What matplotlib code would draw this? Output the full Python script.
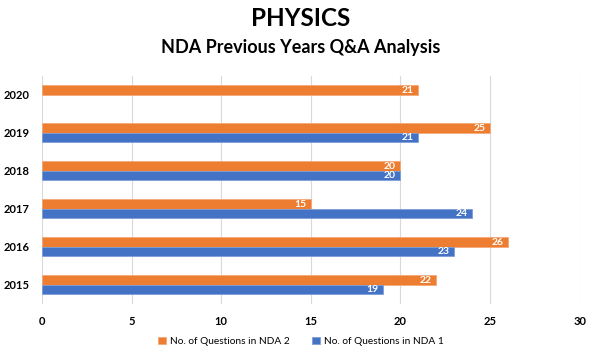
import numpy as np
import matplotlib.pyplot as plt

plt.rcParams['font.family'] = ['Lato', 'DejaVu Sans']

years = ['2015', '2016', '2017', '2018', '2019', '2020']
nda1 = [19, 23, 24, 20, 21, None]
nda2 = [22, 26, 15, 20, 25, 21]

orange = '#ED7D31'
blue = '#4472C4'

fig = plt.figure(figsize=(6.02, 3.58), dpi=100)
ax = fig.add_axes([0.0698, 0.151, 0.8932, 0.637])

y = np.arange(len(years))
h = 0.25
v1 = [np.nan if v is None else v for v in nda1]
b2 = ax.barh(y + h / 2, nda2, height=h, color=orange, edgecolor='#F4A97A', linewidth=0.6,
             label='No. of Questions in NDA 2', zorder=3)
b1 = ax.barh(y - h / 2, v1, height=h, color=blue, edgecolor='#7E9ED8', linewidth=0.6,
             label='No. of Questions in NDA 1', zorder=3)

for bars, vals in ((b2, nda2), (b1, nda1)):
    for rect, v in zip(bars, vals):
        if v is None:
            continue
        ax.text(v - 0.25, rect.get_y() + rect.get_height() / 2, str(v), ha='right', va='center',
                color='white', fontsize=7.5, fontweight='bold', zorder=4)

ax.set_xlim(0, 30)
ax.set_ylim(-0.5, 5.5)
ax.set_xticks(range(0, 31, 5))
ax.set_yticks(y)
ax.set_yticklabels(years)
ax.tick_params(length=0, labelsize=8, pad=9)
for lab in ax.get_xticklabels() + ax.get_yticklabels():
    lab.set_fontweight('bold')
ax.grid(axis='x', color='#D9D9D9', linewidth=0.8, zorder=0)
for s in ax.spines.values():
    s.set_visible(False)

fig.text(0.5, 0.947, 'PHYSICS', ha='center', va='center', fontsize=17.5, fontweight='bold')
fig.text(0.5, 0.868, 'NDA Previous Years Q&A Analysis', ha='center', va='center',
         fontsize=13, fontweight='bold')

fig.legend(handles=[b2, b1], loc='center', bbox_to_anchor=(0.5, 0.047), ncol=2, frameon=False,
           fontsize=7.3, handlelength=0.75, handleheight=0.75, columnspacing=2.2, handletextpad=0.4)

fig.savefig('out.png', dpi=100)
